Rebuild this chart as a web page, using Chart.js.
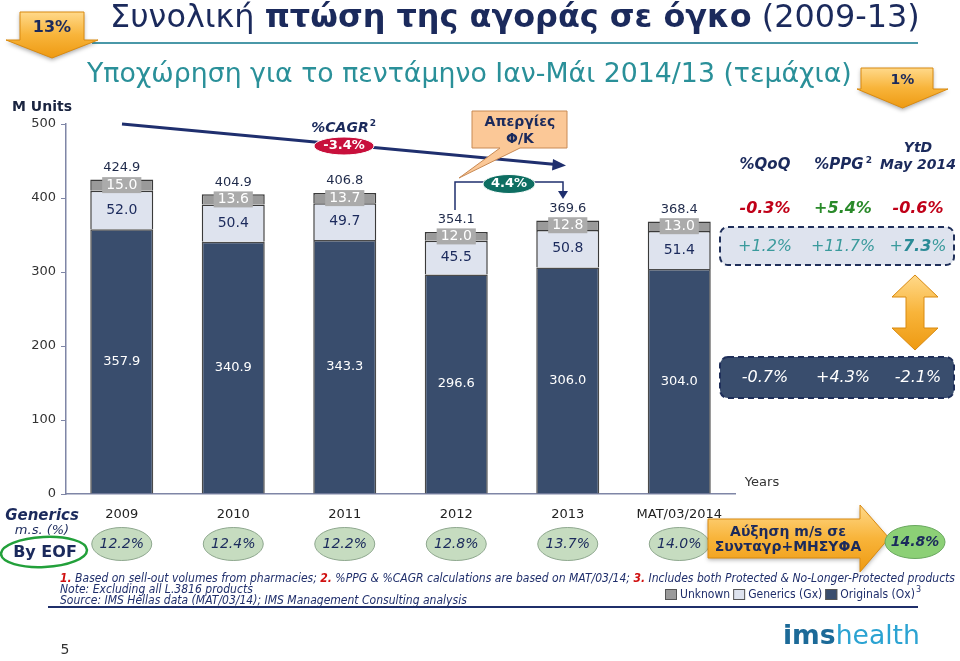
<!DOCTYPE html>
<html><head><meta charset="utf-8">
<script src="https://cdn.jsdelivr.net/npm/chart.js@4"></script>
<style>html,body{margin:0;padding:0;background:#fff}canvas{display:block}</style>
</head><body>
<canvas id="c" width="960" height="661"></canvas>
<script>
const categories = ['2009', '2010', '2011', '2012', '2013', 'MAT/03/2014'];
const originals = [357.9, 340.9, 343.3, 296.6, 306.0, 304.0];
const generics = [52.0, 50.4, 49.7, 45.5, 50.8, 51.4];
const unknown = [15.0, 13.6, 13.7, 12.0, 12.8, 13.0];
const totals = [424.9, 404.9, 406.8, 354.1, 369.6, 368.4];
const genericsShare = ['12.2%', '12.4%', '12.2%', '12.8%', '13.7%', '14.0%'];
const yTicks = [0, 100, 200, 300, 400, 500];
const tableHeads = ['%QoQ', '%PPG²', 'May 2014'];
const rowTotal = ['-0.3%', '+5.4%', '-0.6%'];
const rowGenerics = ['+1.2%', '+11.7%', '+7.3%'];
const rowOriginals = ['-0.7%', '+4.3%', '-2.1%'];

const FONT = "'DejaVu Sans', Verdana, sans-serif";
const NAVY = '#1B2A5C';
const C_ORIG = '#394D6D', C_GEN = '#DEE3EE', C_UNK = '#9A9A9A';

function txt(ctx, t, x, y, font, color, align) {
  ctx.font = font; ctx.fillStyle = color; ctx.textAlign = align || 'center'; ctx.textBaseline = 'middle';
  ctx.fillText(t, x, y);
}
function fitRuns(ctx, parts, x, y, size, targetW, align) {
  const f = (p, s) => `${p.style || ''} ${s}px ${FONT}`;
  let total = 0;
  parts.forEach(p => { ctx.font = f(p, size); total += ctx.measureText(p.t).width; });
  let s = size;
  if (targetW) { s = size * targetW / total; total = targetW; }
  let cx = align === 'center' ? x - total / 2 : x;
  ctx.textAlign = 'left'; ctx.textBaseline = 'middle';
  parts.forEach(p => { ctx.font = f(p, s); ctx.fillStyle = p.color; ctx.fillText(p.t, cx, y); cx += ctx.measureText(p.t).width; });
  return s;
}
function squeezeRuns(ctx, parts, x, y, size, targetW) {
  const f = p => `${p.style || ''} ${size}px ${FONT}`;
  let total = 0;
  parts.forEach(p => { ctx.font = f(p); total += ctx.measureText(p.t).width; });
  const k = targetW ? Math.min(1, targetW / total) : 1;
  ctx.save(); ctx.translate(x, y); ctx.scale(k, 1);
  ctx.textAlign = 'left'; ctx.textBaseline = 'middle';
  let cx = 0;
  parts.forEach(p => { ctx.font = f(p); ctx.fillStyle = p.color; ctx.fillText(p.t, cx, 0); cx += ctx.measureText(p.t).width; });
  ctx.restore();
  return k;
}
function orangeGrad(ctx, y0, y1) {
  const g = ctx.createLinearGradient(0, y0, 0, y1);
  g.addColorStop(0, '#FFD98A'); g.addColorStop(0.5, '#F8B43A'); g.addColorStop(1, '#EE9A12');
  return g;
}
function downBadge(ctx, bx0, bx1, by0, hy, hx0, hx1, tipY, label, size) {
  const cx = (hx0 + hx1) / 2;
  ctx.save();
  ctx.shadowColor = 'rgba(0,0,0,0.35)'; ctx.shadowBlur = 4; ctx.shadowOffsetY = 2;
  ctx.beginPath();
  ctx.moveTo(bx0, by0); ctx.lineTo(bx1, by0); ctx.lineTo(bx1, hy); ctx.lineTo(hx1, hy);
  ctx.lineTo(cx, tipY); ctx.lineTo(hx0, hy); ctx.lineTo(bx0, hy); ctx.closePath();
  ctx.fillStyle = orangeGrad(ctx, by0, tipY); ctx.fill();
  ctx.restore();
  ctx.strokeStyle = '#D98A10'; ctx.lineWidth = 1; ctx.stroke();
  txt(ctx, label, cx, (by0 + hy) / 2 + 2, `bold ${size}px ${FONT}`, NAVY);
}
function ellipseLabel(ctx, cx, cy, rx, ry, fill, stroke, label, font, color) {
  ctx.beginPath(); ctx.ellipse(cx, cy, rx, ry, 0, 0, Math.PI * 2);
  ctx.fillStyle = fill; ctx.fill();
  if (stroke) { ctx.strokeStyle = stroke; ctx.lineWidth = 1; ctx.stroke(); }
  txt(ctx, label, cx, cy, font, color);
}

const labelsPlugin = {
  id: 'labels',
  beforeDraw(chart) {
    const ctx = chart.ctx; ctx.save(); ctx.fillStyle = '#fff'; ctx.fillRect(0, 0, chart.width, chart.height); ctx.restore();
  },
  afterDatasetsDraw(chart) {
    const ctx = chart.ctx;
    const mO = chart.getDatasetMeta(0).data, mG = chart.getDatasetMeta(1).data, mU = chart.getDatasetMeta(2).data;
    ctx.save();
    for (let i = 0; i < categories.length; i++) {
      const o = mO[i], g = mG[i], u = mU[i];
      txt(ctx, originals[i].toFixed(1), o.x, (o.y + o.base) / 2, `13px ${FONT}`, '#FFFFFF');
      txt(ctx, generics[i].toFixed(1), g.x, (g.y + g.base) / 2, `14px ${FONT}`, NAVY);
      const uy = (u.y + u.base) / 2;
      ctx.font = `14px ${FONT}`;
      const w = ctx.measureText(unknown[i].toFixed(1)).width + 8;
      ctx.fillStyle = '#ABABAB'; ctx.fillRect(u.x - w / 2, uy - 8, w, 16);
      txt(ctx, unknown[i].toFixed(1), u.x, uy, `14px ${FONT}`, '#FFFFFF');
      txt(ctx, totals[i].toFixed(1), u.x, u.y - 12, `13px ${FONT}`, '#1F2A4A');
    }
    ctx.restore();
  },
  afterDraw(chart) {
    const ctx = chart.ctx;
    const xs = chart.scales.x;
    ctx.save();
    fitRuns(ctx, [
      { t: 'Συνολική ', style: '', color: NAVY },
      { t: 'πτώση της αγοράς σε όγκο', style: 'bold', color: NAVY },
      { t: ' (2009-13)', style: '', color: NAVY }
    ], 110, 19, 28, 810);
    ctx.strokeStyle = '#4A98A8'; ctx.lineWidth = 2;
    ctx.beginPath(); ctx.moveTo(92, 43); ctx.lineTo(918, 43); ctx.stroke();
    fitRuns(ctx, [{ t: 'Υποχώρηση για το πεντάμηνο Ιαν-Μάι 2014/13 (τεμάχια)', style: '', color: '#2A9099' }], 87, 75, 24, 765);
    downBadge(ctx, 20, 84, 12, 40, 6, 98, 58, '13%', 16);
    downBadge(ctx, 861, 933, 68, 89, 857, 948, 108, '1%', 14);
    txt(ctx, 'M Units', 42, 107, `bold 14px ${FONT}`, '#1a2440');

    ctx.strokeStyle = '#1F2F6E'; ctx.lineWidth = 3;
    ctx.beginPath(); ctx.moveTo(122, 124); ctx.lineTo(556, 164.5); ctx.stroke();
    ctx.fillStyle = '#1F2F6E';
    ctx.beginPath(); ctx.moveTo(566, 165.5); ctx.lineTo(553, 159); ctx.lineTo(552, 170.5); ctx.closePath(); ctx.fill();
    txt(ctx, '%CAGR', 340, 128, `italic bold 14px ${FONT}`, NAVY);
    txt(ctx, '2', 373, 124, `bold 9px ${FONT}`, NAVY);
    ellipseLabel(ctx, 344, 146, 30, 9, '#C8103C', '#ffffff', '-3.4%', `bold 13px ${FONT}`, '#FFFFFF');

    ctx.beginPath();
    ctx.moveTo(472, 111); ctx.lineTo(567, 111); ctx.lineTo(567, 148); ctx.lineTo(520, 148);
    ctx.lineTo(459, 178); ctx.lineTo(500, 148); ctx.lineTo(472, 148); ctx.closePath();
    ctx.fillStyle = '#FBC897'; ctx.fill(); ctx.strokeStyle = '#C88A55'; ctx.lineWidth = 1; ctx.stroke();
    txt(ctx, 'Απεργίες', 520, 122, `bold 14px ${FONT}`, NAVY);
    txt(ctx, 'Φ/Κ', 520, 139, `bold 14px ${FONT}`, NAVY);

    ctx.strokeStyle = '#1F2F6E'; ctx.lineWidth = 1.5;
    ctx.beginPath(); ctx.moveTo(455, 210); ctx.lineTo(455, 182); ctx.lineTo(563, 182); ctx.lineTo(563, 192); ctx.stroke();
    ctx.fillStyle = '#1F2F6E';
    ctx.beginPath(); ctx.moveTo(558, 191); ctx.lineTo(568, 191); ctx.lineTo(563, 199); ctx.closePath(); ctx.fill();
    ellipseLabel(ctx, 509, 184, 26, 9.5, '#0E6E62', '#ffffff', '4.4%', `bold 13px ${FONT}`, '#FFFFFF');

    const cols = [765, 843, 918];
    txt(ctx, tableHeads[0], cols[0], 165, `italic bold 15px ${FONT}`, NAVY);
    txt(ctx, '%PPG', cols[1] - 4, 165, `italic bold 15px ${FONT}`, NAVY);
    txt(ctx, '2', cols[1] + 26, 161, `bold 9px ${FONT}`, NAVY);
    txt(ctx, 'YtD', cols[2], 148, `italic bold 14px ${FONT}`, NAVY);
    txt(ctx, tableHeads[2], cols[2], 165, `italic bold 14px ${FONT}`, NAVY);
    const rc = ['#C00018', '#2A8A2A', '#C00018'];
    rowTotal.forEach((t, i) => txt(ctx, t, cols[i], 209, `italic bold 16px ${FONT}`, rc[i]));

    ctx.setLineDash([6, 4]); ctx.lineWidth = 2; ctx.strokeStyle = '#1F2F5A';
    ctx.beginPath(); ctx.roundRect(720, 227, 234, 38, 8); ctx.fillStyle = '#DEE3EE'; ctx.fill(); ctx.stroke();
    ctx.beginPath(); ctx.roundRect(720, 357, 234, 41, 8); ctx.fillStyle = C_ORIG; ctx.fill(); ctx.stroke();
    ctx.setLineDash([]);
    txt(ctx, rowGenerics[0], cols[0], 247, `italic 16px ${FONT}`, '#3A9A9C');
    txt(ctx, rowGenerics[1], cols[1], 247, `italic 16px ${FONT}`, '#3A9A9C');
    fitRuns(ctx, [
      { t: '+', style: 'italic', color: '#3A9A9C' },
      { t: '7.3', style: 'italic bold', color: '#2A8A96' },
      { t: '%', style: 'italic', color: '#3A9A9C' }], cols[2], 247, 16, 0, 'center');
    rowOriginals.forEach((t, i) => txt(ctx, t, cols[i], 378, `italic 16px ${FONT}`, '#FFFFFF'));

    const ax = 915;
    ctx.beginPath();
    ctx.moveTo(ax, 275); ctx.lineTo(ax + 23, 297); ctx.lineTo(ax + 9, 297); ctx.lineTo(ax + 9, 328);
    ctx.lineTo(ax + 23, 328); ctx.lineTo(ax, 350); ctx.lineTo(ax - 23, 328); ctx.lineTo(ax - 9, 328);
    ctx.lineTo(ax - 9, 297); ctx.lineTo(ax - 23, 297); ctx.closePath();
    ctx.fillStyle = orangeGrad(ctx, 275, 350); ctx.fill(); ctx.strokeStyle = '#D98A10'; ctx.lineWidth = 1; ctx.stroke();

    txt(ctx, 'Years', 762, 483, `13px ${FONT}`, '#333');

    txt(ctx, 'Generics', 42, 516, `italic bold 15px ${FONT}`, NAVY);
    txt(ctx, 'm.s. (%)', 42, 531, `italic 13px ${FONT}`, NAVY);
    txt(ctx, 'By EOF', 45, 553, `bold 16px ${FONT}`, NAVY);
    ctx.beginPath(); ctx.ellipse(44, 552, 43, 15, -0.05, 0, Math.PI * 2);
    ctx.strokeStyle = '#22A03A'; ctx.lineWidth = 2.5; ctx.stroke();
    genericsShare.forEach((t, i) => {
      ellipseLabel(ctx, xs.getPixelForValue(i), 544, 30, 16.5, '#C6DCC0', '#8FA88F', t, `italic 14px ${FONT}`, NAVY);
    });

    ctx.save();
    ctx.shadowColor = 'rgba(0,0,0,0.3)'; ctx.shadowBlur = 4; ctx.shadowOffsetY = 2;
    ctx.beginPath();
    ctx.moveTo(708, 519); ctx.lineTo(860, 519); ctx.lineTo(860, 505); ctx.lineTo(889, 538);
    ctx.lineTo(860, 572); ctx.lineTo(860, 558); ctx.lineTo(708, 558); ctx.closePath();
    ctx.fillStyle = orangeGrad(ctx, 505, 572); ctx.fill();
    ctx.restore();
    ctx.strokeStyle = '#D98A10'; ctx.lineWidth = 1; ctx.stroke();
    txt(ctx, 'Αύξηση m/s σε', 788, 532, `bold 14px ${FONT}`, NAVY);
    txt(ctx, 'Συνταγρ+ΜΗΣΥΦΑ', 788, 547, `bold 14px ${FONT}`, NAVY);
    ellipseLabel(ctx, 915, 542, 30, 16.5, '#8CD076', '#6AA860', '14.8%', `italic bold 14px ${FONT}`, NAVY);

    const RED = '#D01010', FN = '#1F2E6B';
    const k = squeezeRuns(ctx, [
      { t: '1.', style: 'italic bold', color: RED },
      { t: ' Based on sell-out volumes from pharmacies; ', style: 'italic', color: FN },
      { t: '2.', style: 'italic bold', color: RED },
      { t: ' %PPG & %CAGR calculations are based on MAT/03/14; ', style: 'italic', color: FN },
      { t: '3.', style: 'italic bold', color: RED },
      { t: ' Includes both Protected & No-Longer-Protected products', style: 'italic', color: FN }
    ], 60, 579, 12, 895);
    ctx.save(); ctx.translate(60, 0); ctx.scale(k, 1);
    txt(ctx, 'Note: Excluding all L.3816 products', 0, 590, `italic 12px ${FONT}`, FN, 'left');
    txt(ctx, 'Source: IMS Hellas data (MAT/03/14); IMS Management Consulting analysis', 0, 601, `italic 12px ${FONT}`, FN, 'left');
    ctx.restore();

    const lg = [[C_UNK, 'Unknown'], [C_GEN, 'Generics (Gx)'], [C_ORIG, 'Originals (Ox)']];
    let lx = 665;
    ctx.font = `12px ${FONT}`;
    lg.forEach(([c, t]) => {
      ctx.fillStyle = c; ctx.fillRect(lx, 589, 12, 11);
      ctx.strokeStyle = '#555'; ctx.lineWidth = 1; ctx.strokeRect(lx + 0.5, 589.5, 11, 10);
      ctx.save(); ctx.translate(lx + 15, 0); ctx.scale(0.9, 1);
      txt(ctx, t, 0, 595, `12px ${FONT}`, '#1F2E6B', 'left');
      const w = ctx.measureText(t).width * 0.9;
      ctx.restore();
      if (t.startsWith('Originals')) txt(ctx, '3', lx + 15 + w + 1, 590, `8px ${FONT}`, '#1F2E6B', 'left');
      lx += 15 + w + 3;
    });

    ctx.strokeStyle = '#1F2F6A'; ctx.lineWidth = 2;
    ctx.beginPath(); ctx.moveTo(48, 607); ctx.lineTo(918, 607); ctx.stroke();

    txt(ctx, '5', 65, 650, `14px ${FONT}`, '#333');
    fitRuns(ctx, [
      { t: 'ims', style: 'bold', color: '#1C6A98' },
      { t: 'health', style: '', color: '#2BA3D2' }], 783, 637, 30, 137);
    ctx.restore();
  }
};

new Chart(document.getElementById('c'), {
  type: 'bar',
  data: {
    labels: categories,
    datasets: [
      { label: 'Originals (Ox)', data: originals, backgroundColor: C_ORIG, borderColor: '#4a4a4a', borderWidth: 1.5, barPercentage: 0.565, categoryPercentage: 1 },
      { label: 'Generics (Gx)', data: generics, backgroundColor: C_GEN, borderColor: '#3a3a3a', borderWidth: 1.5, barPercentage: 0.565, categoryPercentage: 1 },
      { label: 'Unknown', data: unknown, backgroundColor: C_UNK, borderColor: '#3a3a3a', borderWidth: 1.5, barPercentage: 0.565, categoryPercentage: 1 }
    ]
  },
  options: {
    responsive: false,
    animation: false,
    devicePixelRatio: 1,
    layout: { padding: { top: 124, right: 225, bottom: 0, left: 0 } },
    plugins: { legend: { display: false }, tooltip: { enabled: false } },
    scales: {
      x: {
        stacked: true,
        grid: { display: false },
        border: { display: true, color: '#7F86A6', width: 1.5 },
        ticks: { color: '#222', font: { family: FONT, size: 13 }, padding: 5, maxRotation: 0, autoSkip: false },
        afterFit(s) { s.height = 167; }
      },
      y: {
        stacked: true,
        min: 0, max: 500,
        afterBuildTicks(s) { s.ticks = yTicks.map(v => ({ value: v })); },
        grid: { drawOnChartArea: false, drawTicks: true, tickLength: 5, color: '#7F86A6' },
        border: { display: true, color: '#7F86A6', width: 1.5 },
        ticks: { color: '#333', font: { family: FONT, size: 13 }, padding: 5 },
        afterFit(s) { s.width = 66; }
      }
    }
  },
  plugins: [labelsPlugin]
});
</script>
</body></html>
